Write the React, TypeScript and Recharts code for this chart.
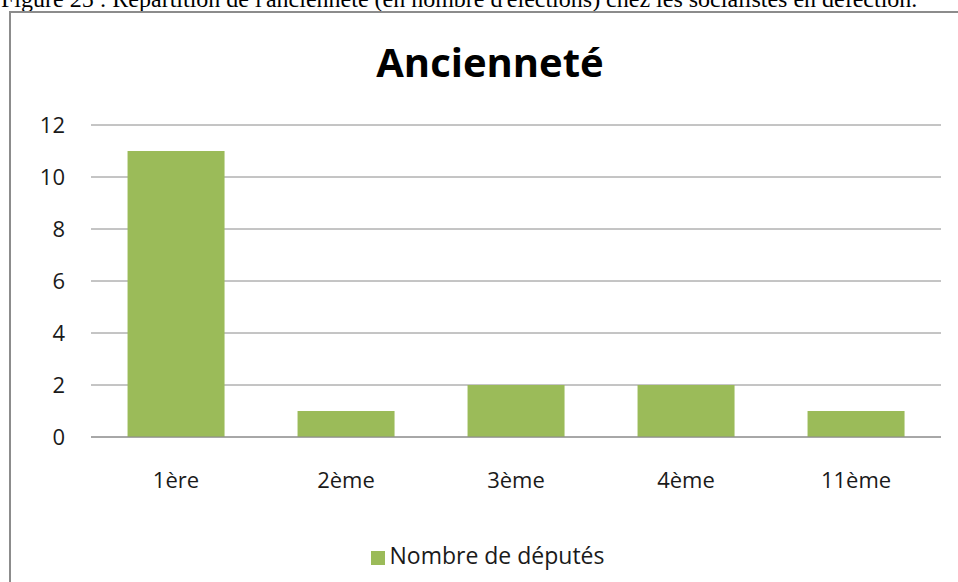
import { BarChart, Bar, XAxis, YAxis, CartesianGrid, Legend } from "recharts";

// Ancienneté (rang de l'élection) des députés socialistes en défection
const categories = ["1ère", "2ème", "3ème", "4ème", "11ème"];
const deputes = [11, 1, 2, 2, 1];
const yTicks = [0, 2, 4, 6, 8, 10, 12];

const caption =
  "Figure 25 : Répartition de l'ancienneté (en nombre d'élections) chez les socialistes en défection.";

const data = categories.map((c, i) => ({ rang: c, deputes: deputes[i] }));

const font = "'Open Sans', 'Noto Sans', sans-serif";
const grid = "#8a8a8a";

export default function App() {
  return (
    <div
      style={{
        position: "absolute",
        left: 0,
        top: 0,
        width: 958,
        height: 582,
        overflow: "hidden",
        background: "#fff",
      }}
    >
      <div
        style={{
          position: "absolute",
          left: 1,
          top: -15,
          whiteSpace: "nowrap",
          fontFamily: "'Liberation Serif', 'Times New Roman', serif",
          fontSize: 24,
          lineHeight: "28px",
          color: "#000",
        }}
      >
        {caption}
      </div>
      <div
        style={{
          position: "absolute",
          left: 9,
          top: 11,
          width: 960,
          height: 580,
          borderLeft: "2px solid #8c8c8c",
          borderTop: "2px solid #8c8c8c",
        }}
      />
      <div
        style={{
          position: "absolute",
          left: 0,
          top: 38,
          width: 980,
          textAlign: "center",
          fontFamily: font,
          fontWeight: 700,
          fontSize: 40,
          lineHeight: "48px",
          color: "#000",
        }}
      >
        Ancienneté
      </div>
      <div style={{ position: "absolute", left: 0, top: 0 }}>
        <BarChart
          width={958}
          height={582}
          data={data}
          margin={{ top: 125, right: 17, bottom: 115, left: 0 }}
          barCategoryGap="21.5%"
        >
          <CartesianGrid vertical={false} stroke={grid} strokeWidth={1} />
          <XAxis
            dataKey="rang"
            height={30}
            axisLine={{ stroke: grid }}
            tickLine={false}
            tickSize={0}
            tickMargin={35}
            tick={{ fontSize: 22, fontFamily: font, fill: "#1a1a1a" }}
          />
          <YAxis
            width={91}
            domain={[0, 12]}
            ticks={yTicks}
            axisLine={false}
            tickLine={false}
            tickSize={0}
            tickMargin={26}
            tick={{ fontSize: 22, fontFamily: font, fill: "#1a1a1a" }}
          />
          <Legend
            layout="horizontal"
            verticalAlign="middle"
            align="center"
            iconType="square"
            iconSize={14}
            wrapperStyle={{
              top: 539,
              left: 0,
              width: 986,
              fontFamily: font,
              fontSize: 23,
            }}
            formatter={(v) => <span style={{ color: "#1a1a1a" }}>{v}</span>}
          />
          <Bar
            dataKey="deputes"
            name="Nombre de députés"
            fill="#9bbb59"
            isAnimationActive={false}
          />
        </BarChart>
      </div>
    </div>
  );
}
